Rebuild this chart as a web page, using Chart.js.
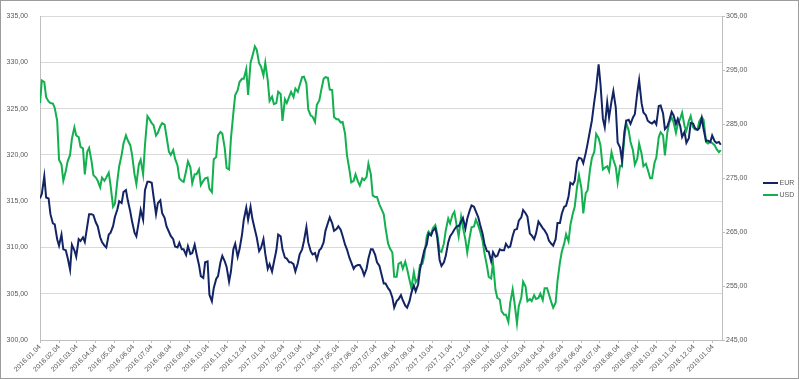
<!DOCTYPE html>
<html>
<head>
<meta charset="utf-8">
<script src="https://cdn.jsdelivr.net/npm/chart.js@4.4.1/dist/chart.umd.min.js"></script>
<style>
  html, body { margin: 0; padding: 0; background: #ffffff; }
  #wrap { width: 799px; height: 379px; position: relative; }
</style>
</head>
<body>
<div id="wrap"><canvas id="c" width="799" height="379"></canvas></div>
<script>
// ---------- DATA ----------
// Observations: every Monday and Thursday from startDate (159 weeks), plus a final day.
const startDate = '2016.01.04';
const weekCount = 159;
const obsWeekdays = [0, 3];       // day offsets within a week: Monday, Thursday
const lastDate = '2019.01.18';
const axisEndDate = '2019.01.19';

const seriesNames = ['EUR', 'USD'];

const eurValues = [
  315.3, 315.8, 317.7, 315.4, 315.3, 313.6, 312.6, 312.5, 310.9, 310.2,
  311.4, 309.8, 309.7, 308.9, 307.6, 310.3, 309.7, 309.0, 310.9, 310.7,
  311.1, 310.6, 312.3, 313.6, 313.6, 313.5, 312.7, 312.3, 311.1, 310.6,
  310.2, 310.0, 311.4, 311.6, 312.3, 313.3, 314.1, 315.0, 314.8, 316.0,
  316.2, 315.1, 313.9, 312.8, 311.6, 311.2, 312.8, 314.05, 313.0, 316.2,
  317.1, 317.1, 317.0, 315.5, 313.6, 314.8, 315.1, 313.7, 313.2, 312.3,
  311.7, 311.25, 310.9, 310.1, 310.0, 310.5, 309.8, 309.8, 309.2, 310.15,
  309.3, 309.4, 310.3, 309.3, 308.1, 306.9, 306.7, 308.4, 308.5, 304.9,
  304.2, 305.6, 306.6, 306.9, 308.4, 309.1, 308.5, 307.9, 306.3, 307.4,
  309.8, 310.4, 309.0, 309.8, 311.35, 313.0, 314.3, 313.0, 314.4, 313.1,
  311.95, 311.1, 309.6, 309.95, 310.9, 309.3, 307.7, 308.2, 307.4, 308.4,
  309.7, 311.4, 311.2, 309.8, 308.9, 308.8, 308.4, 308.4, 308.2, 307.4,
  308.3, 309.25, 309.8, 310.7, 312.2, 310.55, 309.6, 309.25, 309.4, 308.7,
  309.7, 309.9, 310.55, 311.8, 312.65, 313.25, 312.6, 311.8, 312.0, 312.3,
  311.9, 311.25, 310.3, 309.8, 308.9, 308.4, 307.7, 308.0, 308.1, 308.1,
  307.6, 307.0, 307.7, 308.8, 309.8, 309.8, 309.2, 308.4, 308.0, 307.2,
  306.1, 306.1, 305.6, 305.35, 304.6, 303.5, 304.2, 304.4, 304.85, 304.3,
  303.7, 303.5, 304.2, 305.1, 305.9, 305.25, 306.0, 307.6, 308.8, 309.7,
  310.3, 311.5, 311.3, 311.8, 312.1, 311.15, 308.65, 308.0, 308.4, 309.1,
  310.55, 311.2, 311.6, 311.95, 312.3, 312.3, 312.8, 313.2, 312.05, 313.1,
  314.0, 314.55, 314.4, 313.9, 313.25, 312.45, 311.5, 310.4, 309.6, 309.55,
  308.5, 309.5, 309.0, 309.1, 309.8, 309.7, 309.7, 310.4, 310.0, 310.1,
  311.25, 311.9, 312.0, 312.9, 313.25, 314.05, 313.7, 313.35, 311.5, 311.3,
  310.9, 311.5, 312.8, 312.5, 312.1, 311.85, 311.4, 310.75, 310.4, 310.2,
  310.9, 312.65, 312.65, 313.65, 314.4, 314.5, 315.5, 317.0, 316.8, 317.2,
  319.3, 319.7, 319.6, 319.1, 320.2, 321.2, 322.65, 323.7, 325.8, 327.2,
  329.8, 327.7, 323.9, 323.0, 325.7, 324.05, 325.8, 326.9, 325.1, 321.35,
  320.8, 319.4, 322.5, 323.7, 323.8, 323.35, 324.05, 324.4, 326.7, 328.1,
  325.6, 324.6, 324.3, 323.7, 323.5, 323.4, 323.65, 323.3, 325.3, 325.35,
  324.5, 322.8, 323.1, 323.7, 324.65, 324.3, 323.35, 323.9, 323.1, 321.95,
  322.5, 321.3, 321.8, 323.45, 323.4, 322.9, 322.7, 322.9, 324.0, 322.8,
  321.5, 321.55, 321.4, 322.1, 321.5, 321.3, 321.4, 321.1
];

const usdValues = [
  288.9, 293.1, 292.8, 290.0, 289.2, 288.9, 288.8, 288.0, 285.6, 278.4,
  277.5, 274.5, 276.3, 278.1, 279.3, 282.3, 284.4, 282.9, 282.6, 280.8,
  280.5, 275.7, 279.9, 280.6, 278.1, 275.55, 275.1, 274.5, 273.3, 275.1,
  274.5, 275.1, 276.0, 273.6, 269.7, 270.25, 274.5, 277.2, 279.3, 281.4,
  282.9, 282.0, 281.1, 279.3, 275.7, 273.9, 277.5, 278.4, 275.7, 281.1,
  286.5, 286.0, 285.2, 284.8, 282.9, 283.4, 284.6, 285.2, 284.9, 282.8,
  279.9, 279.3, 280.2, 278.6, 277.35, 274.95, 274.5, 274.3, 276.3, 278.1,
  277.0, 274.05, 275.7, 275.7, 276.6, 273.7, 274.5, 274.95, 275.1, 273.0,
  272.4, 278.5, 278.9, 282.9, 283.55, 283.25, 280.5, 276.9, 276.6, 282.3,
  287.1, 290.4, 291.3, 292.8, 293.4, 293.4, 295.2, 290.4, 296.4, 297.6,
  299.4, 298.8, 296.25, 295.7, 294.0, 296.4, 293.1, 289.3, 290.1, 288.7,
  288.9, 291.0, 290.6, 285.6, 289.6, 288.9, 290.1, 291.0, 290.0, 291.6,
  291.0, 292.2, 293.7, 293.8, 292.5, 287.7, 286.6, 286.4, 285.4, 288.6,
  289.4, 291.2, 293.4, 293.7, 293.6, 291.4, 291.3, 286.3, 285.9, 285.9,
  285.3, 285.4, 283.2, 279.3, 276.6, 274.2, 274.5, 275.7, 274.35, 273.6,
  274.95, 274.6, 275.25, 277.65, 275.7, 271.75, 271.5, 271.5, 270.1, 269.35,
  268.3, 265.7, 262.9, 262.0, 261.2, 256.7, 256.7, 259.1, 259.4, 258.2,
  259.5, 258.2, 256.1, 254.6, 257.6, 255.7, 256.4, 258.9, 259.1, 260.6,
  264.2, 265.1, 264.5, 265.7, 266.3, 264.7, 261.5, 261.3, 262.9, 265.3,
  267.5, 266.6, 268.2, 268.75, 266.05, 264.2, 267.85, 265.9, 263.6, 261.2,
  264.1, 265.9, 266.05, 267.3, 266.2, 265.1, 263.4, 261.1, 258.8, 256.7,
  256.4, 259.4, 254.3, 252.8, 252.5, 250.3, 249.7, 249.7, 248.35, 251.9,
  254.4, 251.9, 248.1, 251.3, 252.8, 255.8, 254.9, 252.2, 252.6, 252.2,
  253.3, 252.6, 252.8, 253.6, 252.4, 254.6, 254.6, 253.5, 251.96, 251.0,
  251.9, 255.9, 259.4, 261.35, 262.9, 264.6, 263.3, 266.3, 268.45, 269.65,
  273.45, 275.55, 273.1, 268.45, 272.2, 272.7, 276.6, 278.7, 279.9, 283.2,
  282.4, 281.1, 276.6, 276.9, 277.2, 276.3, 279.8, 278.4, 277.0, 274.2,
  277.3, 277.2, 282.6, 285.2, 283.8, 281.7, 280.1, 277.5, 278.6, 281.4,
  279.5, 277.2, 277.65, 276.6, 274.95, 274.95, 277.8, 278.8, 282.6, 283.5,
  282.9, 279.2, 283.5, 285.3, 286.2, 285.4, 283.4, 285.0, 286.0, 287.1,
  284.6, 283.8, 285.6, 286.5, 284.4, 284.0, 284.0, 285.5, 286.3, 285.8,
  281.7, 281.4, 281.7, 281.5, 281.1, 280.4, 279.8, 280.2
];

const tickLabels = [
  '2016.01.04','2016.02.04','2016.03.04','2016.04.04','2016.05.04','2016.06.04',
  '2016.07.04','2016.08.04','2016.09.04','2016.10.04','2016.11.04','2016.12.04',
  '2017.01.04','2017.02.04','2017.03.04','2017.04.04','2017.05.04','2017.06.04',
  '2017.07.04','2017.08.04','2017.09.04','2017.10.04','2017.11.04','2017.12.04',
  '2018.01.04','2018.02.04','2018.03.04','2018.04.04','2018.05.04','2018.06.04',
  '2018.07.04','2018.08.04','2018.09.04','2018.10.04','2018.11.04','2018.12.04',
  '2019.01.04'
];

const eurAxis = { min: 300, max: 335, step: 5 };
const usdAxis = { min: 245, max: 305, step: 10 };

// ---------- HELPERS ----------
const DAY = 86400000;
function parseDate(s) { const p = s.split('.').map(Number); return Date.UTC(p[0], p[1] - 1, p[2]); }
function fmtDate(t) {
  const d = new Date(t);
  const mm = String(d.getUTCMonth() + 1).padStart(2, '0');
  const dd = String(d.getUTCDate()).padStart(2, '0');
  return d.getUTCFullYear() + '.' + mm + '.' + dd;
}
const t0 = parseDate(startDate);
const dayOf = s => Math.round((parseDate(s) - t0) / DAY);

const dates = [];
for (let k = 0; k < weekCount; k++) {
  obsWeekdays.forEach(off => {
    const t = t0 + (7 * k + off) * DAY;
    if (t < parseDate(lastDate)) dates.push(fmtDate(t));
  });
}
dates.push(lastDate);

const toPoints = vals => vals.map((v, i) => ({ x: dayOf(dates[i]), y: v }));
const fmtNum = v => v.toFixed(2).replace('.', ',');

const colors = { EUR: '#132465', USD: '#12B04F' };
const txt = '#595959';
const font = { family: 'Liberation Sans, Arial, sans-serif', size: 7 };

const frame = {
  id: 'frame',
  beforeDraw(chart) {
    const c = chart.ctx;
    c.save(); c.fillStyle = '#fff'; c.fillRect(0, 0, chart.width, chart.height); c.restore();
  },
  afterDraw(chart) {
    const c = chart.ctx;
    c.save();
    c.strokeStyle = '#9c9c9c'; c.lineWidth = 1;
    c.strokeRect(0.5, 0.5, chart.width - 1, chart.height - 1);
    const items = [ { name: seriesNames[0], y: 183 }, { name: seriesNames[1], y: 195 } ];
    c.font = '7px ' + font.family;
    c.textBaseline = 'middle';
    items.forEach(it => {
      c.strokeStyle = colors[it.name]; c.lineWidth = 2;
      c.beginPath(); c.moveTo(763, it.y); c.lineTo(778, it.y); c.stroke();
      c.fillStyle = txt; c.fillText(it.name, 779.5, it.y);
    });
    c.restore();
  }
};

new Chart(document.getElementById('c'), {
  type: 'line',
  data: {
    datasets: [
      { label: seriesNames[0], data: toPoints(eurValues), yAxisID: 'y', borderColor: colors.EUR,
        borderWidth: 2, pointRadius: 0, tension: 0, fill: false },
      { label: seriesNames[1], data: toPoints(usdValues), yAxisID: 'y1', borderColor: colors.USD,
        borderWidth: 2, pointRadius: 0, tension: 0, fill: false }
    ]
  },
  options: {
    responsive: false,
    animation: false,
    layout: { padding: { left: 1, top: 8, right: 0, bottom: 0 } },
    plugins: { legend: { display: false }, tooltip: { enabled: false } },
    scales: {
      x: {
        type: 'linear',
        min: 0,
        max: dayOf(axisEndDate),
        afterBuildTicks: axis => { axis.ticks = tickLabels.map(l => ({ value: dayOf(l) })); },
        afterFit: s => { s.height = 39; },
        ticks: {
          autoSkip: false, minRotation: 45, maxRotation: 45, padding: 0,
          color: txt, font: font,
          callback: (v) => { const i = tickLabels.findIndex(l => dayOf(l) === v); return i >= 0 ? tickLabels[i] : ''; }
        },
        grid: { drawOnChartArea: false, drawTicks: true, tickLength: 3, color: '#bfbfbf' },
        border: { display: true, color: '#bfbfbf' }
      },
      y: {
        position: 'left',
        min: eurAxis.min, max: eurAxis.max,
        afterFit: s => { s.width = 39; },
        ticks: { stepSize: eurAxis.step, color: txt, font: font, padding: 12, callback: v => fmtNum(v) },
        grid: { color: '#d9d9d9', drawTicks: false },
        border: { display: true, color: '#bfbfbf' }
      },
      y1: {
        position: 'right',
        min: usdAxis.min, max: usdAxis.max,
        afterFit: s => { s.width = 77; },
        ticks: { stepSize: usdAxis.step, color: txt, font: font, padding: 1, callback: v => fmtNum(v) },
        grid: { drawOnChartArea: false, drawTicks: true, tickLength: 3, color: '#bfbfbf' },
        border: { display: true, color: '#bfbfbf' }
      }
    }
  },
  plugins: [frame]
});
</script>
</body>
</html>
